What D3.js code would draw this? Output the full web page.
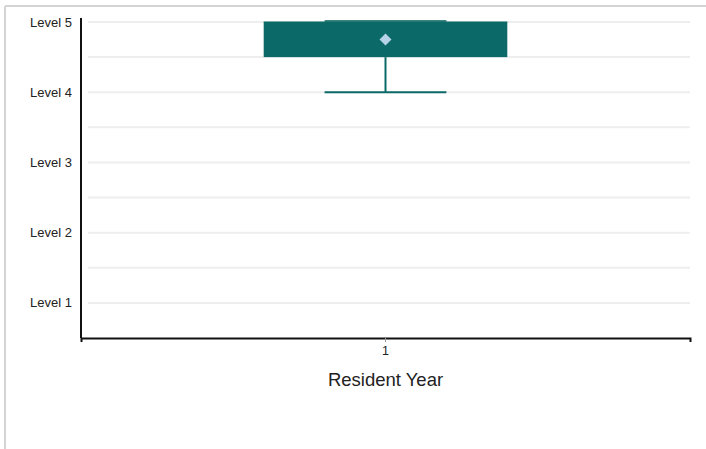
<!DOCTYPE html>
<html><head><meta charset="utf-8">
<script src="https://cdn.jsdelivr.net/npm/d3@7/dist/d3.min.js"></script>
<style>
html,body{margin:0;padding:0;background:#fff;}
svg{display:block;font-family:"Liberation Sans",Arial,sans-serif;}
</style></head>
<body>
<svg id="chart" width="706" height="449"></svg>
<script>
const categories = ["1"];
const whiskerLow = [4];
const q1 = [4.5];
const median = [5];
const q3 = [5];
const whiskerHigh = [5];
const mean = [4.75];
const levelValues = [1, 2, 3, 4, 5];
const levelLabels = ["Level 1", "Level 2", "Level 3", "Level 4", "Level 5"];
const gridValues = [1, 1.5, 2, 2.5, 3, 3.5, 4, 4.5, 5];
const xTitle = "Resident Year";

const svg = d3.select("#chart");
const boxColor = "#0b6a67";

// frame
svg.append("line").attr("x1", 5).attr("x2", 706).attr("y1", 6).attr("y2", 6)
  .attr("stroke", "#d4d4d4").attr("stroke-width", 2);
svg.append("line").attr("x1", 5).attr("x2", 5).attr("y1", 6).attr("y2", 449)
  .attr("stroke", "#d4d4d4").attr("stroke-width", 2);

const x = d3.scaleBand().domain(categories).range([81, 690]).padding(0);
const y = d3.scaleLinear().domain([0.5, 5.057]).range([338, 18]);

// grid
svg.append("g").selectAll("line").data(gridValues).join("line")
  .attr("x1", 88).attr("x2", 690)
  .attr("y1", d => y(d)).attr("y2", d => y(d))
  .attr("stroke", "#eeeeee").attr("stroke-width", 2);

// y labels
svg.append("g").selectAll("text").data(levelValues).join("text")
  .attr("x", 72).attr("y", d => y(d)).attr("dy", "0.35em")
  .attr("text-anchor", "end").attr("font-size", 13).attr("fill", "#222")
  .text((d, i) => levelLabels[i]);

// y axis line
svg.append("line").attr("x1", 81).attr("x2", 81).attr("y1", 18).attr("y2", 338)
  .attr("stroke", "#111").attr("stroke-width", 2);

// x axis
const xAxis = svg.append("g").attr("transform", "translate(0,338)")
  .call(d3.axisBottom(x).tickSizeInner(4).tickSizeOuter(4));
xAxis.attr("font-size", null).attr("font-family", null);
xAxis.select(".domain").attr("stroke", "#111").attr("stroke-width", 2);
xAxis.selectAll(".tick line").attr("stroke", "#999");
xAxis.selectAll(".tick text")
  .style("font-size", "12.5px").attr("fill", "#222")
  .style("font-family", "'Liberation Sans',Arial,sans-serif")
  .attr("y", 17).attr("dy", null);

svg.append("text").attr("x", x("1") + x.bandwidth() / 2).attr("y", 386)
  .attr("text-anchor", "middle").attr("font-size", 18.5).attr("fill", "#222")
  .text(xTitle);

// boxes
const bw = x.bandwidth() * 0.4;
const cw = x.bandwidth() * 0.2;
categories.forEach((c, i) => {
  const cx = x(c) + x.bandwidth() / 2;
  const g = svg.append("g");
  g.append("line").attr("x1", cx).attr("x2", cx)
    .attr("y1", y(q1[i])).attr("y2", y(whiskerLow[i]))
    .attr("stroke", boxColor).attr("stroke-width", 2);
  g.append("line").attr("x1", cx - cw / 2).attr("x2", cx + cw / 2)
    .attr("y1", y(whiskerLow[i])).attr("y2", y(whiskerLow[i]))
    .attr("stroke", boxColor).attr("stroke-width", 2);
  g.append("line").attr("x1", cx).attr("x2", cx)
    .attr("y1", y(q3[i])).attr("y2", y(whiskerHigh[i]))
    .attr("stroke", boxColor).attr("stroke-width", 2);
  g.append("line").attr("x1", cx - cw / 2).attr("x2", cx + cw / 2)
    .attr("y1", y(whiskerHigh[i]) - 1).attr("y2", y(whiskerHigh[i]) - 1)
    .attr("stroke", "#3f8480").attr("stroke-width", 2);
  g.append("rect").attr("x", cx - bw / 2).attr("width", bw)
    .attr("y", y(q3[i])).attr("height", y(q1[i]) - y(q3[i]))
    .attr("fill", boxColor);
  g.append("line").attr("x1", cx - bw / 2).attr("x2", cx + bw / 2)
    .attr("y1", y(median[i])).attr("y2", y(median[i]))
    .attr("stroke", boxColor).attr("stroke-width", 1);
  g.append("path")
    .attr("transform", `translate(${cx},${y(mean[i])}) rotate(45)`)
    .attr("d", d3.symbol(d3.symbolSquare, 72)())
    .attr("fill", "#b6d2e6");
});
</script>
</body></html>
